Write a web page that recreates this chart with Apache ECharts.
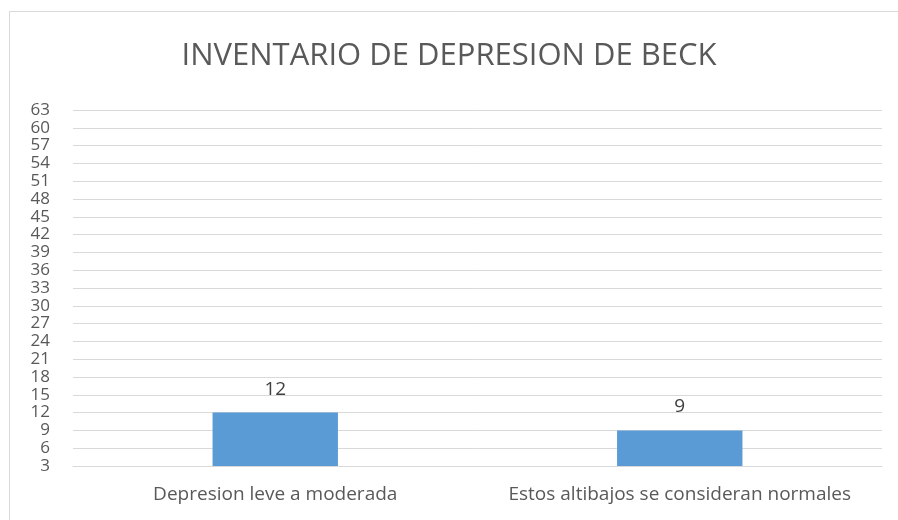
<!DOCTYPE html>
<html>
<head>
<meta charset="utf-8">
<title>Inventario de depresion de Beck</title>
<script src="https://cdn.jsdelivr.net/npm/echarts@6/dist/echarts.min.js"></script>
<style>
  html, body { margin: 0; padding: 0; background: #fff; }
  #chart { width: 898px; height: 520px; }
</style>
</head>
<body>
<div id="chart"></div>
<script>
// datos
const categorias = ["Depresion leve a moderada", "Estos altibajos se consideran normales"];
const valores = [12, 9];
const ejeMin = 3;
const ejeMax = 63;
const ejePaso = 3;

const chart = echarts.init(document.getElementById("chart"));

const option = {
  backgroundColor: "#fff",
  textStyle: { fontFamily: "Open Sans" },
  // marco del grafico
  graphic: [
    {
      type: "rect",
      shape: { x: 9.5, y: 11.5, width: 1000, height: 600 },
      style: { fill: "none", stroke: "#d9d9d9", lineWidth: 1 },
      silent: true,
    },
  ],
  title: {
    text: "INVENTARIO DE DEPRESION DE BECK",
    left: "center",
    top: 36,
    textStyle: {
      color: "#595959",
      fontSize: 31,
      fontWeight: "normal",
      fontFamily: "Open Sans",
    },
  },
  grid: {
    left: 73,
    right: 16,
    top: 110,
    bottom: 54,
  },
  xAxis: {
    type: "category",
    data: categorias,
    axisLine: { show: true, lineStyle: { color: "#d9d9d9" } },
    axisTick: { show: false },
    axisLabel: {
      color: "#595959",
      fontSize: 19,
      margin: 19,
      interval: 0,
    },
  },
  yAxis: {
    type: "value",
    min: ejeMin,
    max: ejeMax,
    interval: ejePaso,
    axisLine: { show: false },
    axisTick: { show: false },
    axisLabel: {
      color: "#595959",
      fontSize: 17,
      margin: 23,
      showMinLabel: true,
      showMaxLabel: true,
    },
    splitLine: { lineStyle: { color: "#d9d9d9" } },
  },
  series: [
    {
      type: "bar",
      data: valores,
      barWidth: "31%",
      itemStyle: { color: "#5b9bd5" },
      label: {
        show: true,
        position: "top",
        distance: 14,
        color: "#404040",
        fontSize: 19,
      },
    },
  ],
};

chart.setOption(option);
</script>
</body>
</html>
